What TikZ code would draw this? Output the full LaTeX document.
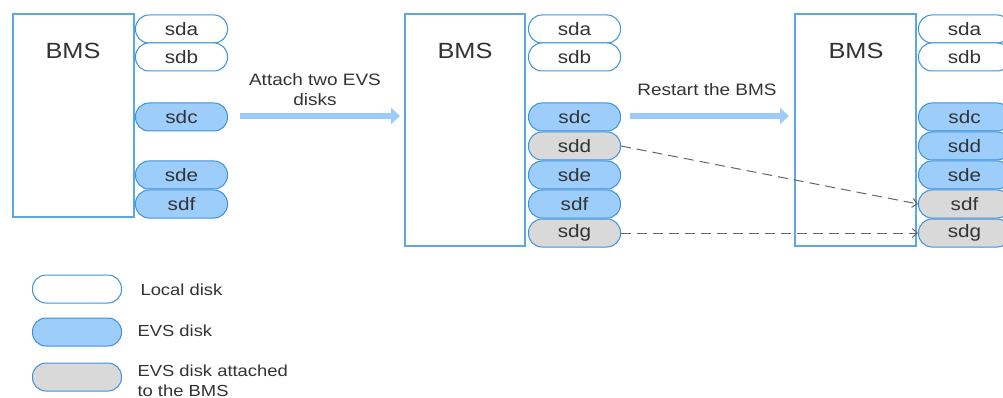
\documentclass[tikz,border=0pt]{standalone}
\usepackage{fontspec}
\setmainfont{Liberation Sans}[FakeStretch=1.15]
\usetikzlibrary{arrows.meta}
\definecolor{boxblue}{HTML}{5AA8E6}
\definecolor{diskline}{HTML}{3D92DA}
\definecolor{evsfill}{HTML}{9DCEFB}
\definecolor{grayfill}{HTML}{D9D9D9}
\definecolor{txt}{HTML}{333333}
\definecolor{arrowblue}{HTML}{9ACBF9}
\definecolor{dashgray}{HTML}{666666}
\begin{document}
\begin{tikzpicture}[x=1pt,y=-1pt,
  bms/.style={draw=boxblue,line width=1.3pt,fill=white},
  disk/.style={draw=diskline,line width=1pt,rounded corners=13.5pt,minimum width=92pt,minimum height=28pt,inner sep=0pt,font=\fontsize{18}{20}\selectfont,text=txt,anchor=west},
  local/.style={disk,fill=white},
  evs/.style={disk,fill=evsfill},
  att/.style={disk,fill=grayfill},
  bigarrow/.style={draw=arrowblue,line width=6pt,-{Triangle[length=9pt,width=16pt]}},
  dasharrow/.style={draw=dashgray,line width=1pt,dash pattern=on 10pt off 6pt,-{Straight Barb[length=5pt,width=9pt]}},
  lbl/.style={font=\fontsize{16.5}{20}\selectfont,text=txt,align=center},
  leg/.style={font=\fontsize{16}{20}\selectfont,text=txt,align=left},
  bmslbl/.style={font=\fontsize{22}{24}\selectfont,text=txt}
]
\useasboundingbox (0,0) rectangle (1003,398);
\clip (0,0) rectangle (1003,398);
% Box 1
\draw[bms] (13,14) rectangle (134,217);
\node[bmslbl] (b1) at (73,51) {BMS};
\node[local] (a1) at (135,29) {sda};
\node[local] (a2) at (135,57) {sdb};
\node[evs] (a3) at (135,117) {sdc};
\node[evs] (a5) at (135,175) {sde};
\node[evs] (a6) at (135,204) {sdf};
% Box 2
\draw[bms] (405,14) rectangle (525,246);
\node[bmslbl] (b2) at (465,51) {BMS};
\node[local] (c1) at (528,29) {sda};
\node[local] (c2) at (528,57) {sdb};
\node[evs] (c3) at (528,117) {sdc};
\node[att] (c4) at (528,146) {sdd};
\node[evs] (c5) at (528,175) {sde};
\node[evs] (c6) at (528,204) {sdf};
\node[att] (c7) at (528,233) {sdg};
% Box 3
\draw[bms] (795,14) rectangle (916,246);
\node[bmslbl] (b3) at (856,51) {BMS};
\node[local] (d1) at (918,29) {sda};
\node[local] (d2) at (918,57) {sdb};
\node[evs] (d3) at (918,117) {sdc};
\node[evs] (d4) at (918,146) {sdd};
\node[evs] (d5) at (918,175) {sde};
\node[att] (d6) at (918,204) {sdf};
\node[att] (d7) at (918,233) {sdg};
% Arrows
\coordinate (s1) at (240,116);
\coordinate (e1) at (400,116);
\draw[bigarrow] (s1) -- (e1);
\node[lbl] (t1) at (315,90) {Attach two EVS\\disks};
\coordinate (s2) at (630,116);
\coordinate (e2) at (789,116);
\draw[bigarrow] (s2) -- (e2);
\node[lbl] (t2) at (707,90) {Restart the BMS};
\draw[dasharrow] (c4.east) -- (d6.west);
\draw[dasharrow] (c7.east) -- (d7.west);
% Legend
\node[local,minimum width=89pt] (l1) at (32,289) {};
\node[evs,minimum width=89pt] (l2) at (32,332) {};
\node[att,minimum width=89pt] (l3) at (32,377) {};
\node[leg,anchor=west] (lt1) at (137,290) {Local disk};
\node[leg,anchor=west] (lt2) at (134,331) {EVS disk};
\node[leg,anchor=north west] (lt3) at (134,361) {EVS disk attached\\to the BMS};
\end{tikzpicture}
\end{document}
